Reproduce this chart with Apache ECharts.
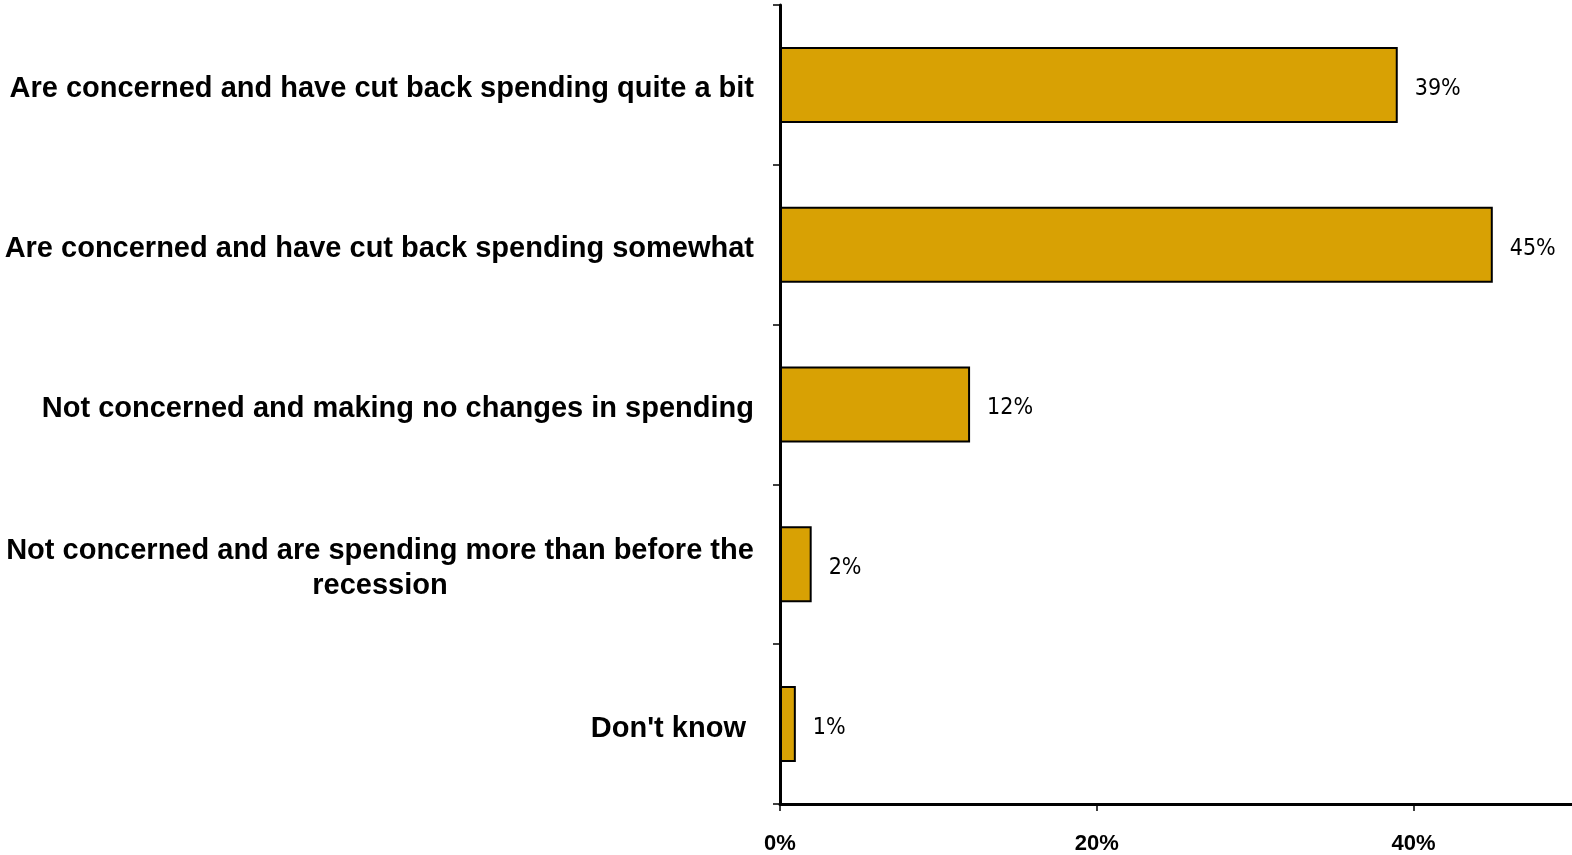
<!DOCTYPE html>
<html>
<head>
<meta charset="utf-8">
<script src="https://cdn.jsdelivr.net/npm/echarts@6/dist/echarts.min.js"></script>
<style>
  html, body { margin: 0; padding: 0; background: #fff; }
  #chart { width: 1572px; height: 855px; }
</style>
</head>
<body>
<div id="chart"></div>
<script>
// Survey responses on spending since the recession
const categories = [
  'Are concerned and have cut back spending quite a bit',
  'Are concerned and have cut back spending somewhat',
  'Not concerned and making no changes in spending',
  'Not concerned and are spending more than before the\nrecession',
  "Don't know "
];
const values = [39, 45, 12, 2, 1];
const xTicks = [0, 20, 40];
const xMax = 50;

const barColor = '#D8A104';
const catFamily = '"Liberation Sans", Arial, sans-serif';
const catSize = 29;
const catFont = { fontFamily: catFamily, fontWeight: 'bold', fontSize: catSize, color: '#000' };

// Width of the widest line of a wrapped label, so its lines can be centred on each other
function widestLine(text) {
  const ctx = document.createElement('canvas').getContext('2d');
  ctx.font = 'bold ' + catSize + 'px ' + catFamily;
  return Math.ceil(Math.max(...text.split('\n').map(l => ctx.measureText(l).width)));
}
const wrapWidth = Math.max(...categories.filter(c => c.includes('\n')).map(widestLine));

const chart = echarts.init(document.getElementById('chart'), null, { renderer: 'canvas' });

chart.setOption({
  animation: false,
  backgroundColor: '#fff',
  grid: { left: 780, right: -3, top: 5, bottom: 50, containLabel: false },
  xAxis: {
    type: 'value',
    min: 0,
    max: xMax,
    splitLine: { show: false },
    axisLine: { show: true, lineStyle: { color: '#000', width: 3 } },
    axisTick: { show: true, length: 7, customValues: xTicks, lineStyle: { color: '#000', width: 1.5 } },
    axisLabel: {
      customValues: xTicks,
      margin: 29,
      formatter: v => v + '%',
      fontFamily: '"Liberation Sans", Arial, sans-serif',
      fontWeight: 'bold',
      fontSize: 22,
      color: '#000'
    }
  },
  yAxis: {
    type: 'category',
    inverse: true,
    data: categories,
    axisLine: { show: true, lineStyle: { color: '#000', width: 3 } },
    axisTick: { show: true, length: 7, inside: false, lineStyle: { color: '#000', width: 1.5 } },
    axisLabel: {
      margin: 26,
      align: 'right',
      ...catFont,
      lineHeight: 35,
      padding: [9, 0, 0, 0],
      formatter: v => {
        const lines = v.split('\n');
        if (lines.length > 1) return lines.map(l => '{m|' + l + '}').join('\n');
        return '{r|' + v + '}';
      },
      rich: {
        r: { ...catFont, lineHeight: 35 },
        m: { ...catFont, lineHeight: 35, width: wrapWidth, align: 'center' }
      }
    }
  },
  series: [{
    type: 'bar',
    data: values,
    barWidth: 76,
    itemStyle: { color: barColor, borderColor: '#000', borderWidth: 2 },
    label: {
      show: true,
      position: 'right',
      distance: 17,
      offset: [0, 4],
      formatter: p => p.value + '%',
      fontFamily: '"Liberation Sans Narrow", "Arial Narrow", "DejaVu Sans Condensed", sans-serif',
      fontSize: 23,
      color: '#000'
    }
  }]
});
</script>
</body>
</html>
